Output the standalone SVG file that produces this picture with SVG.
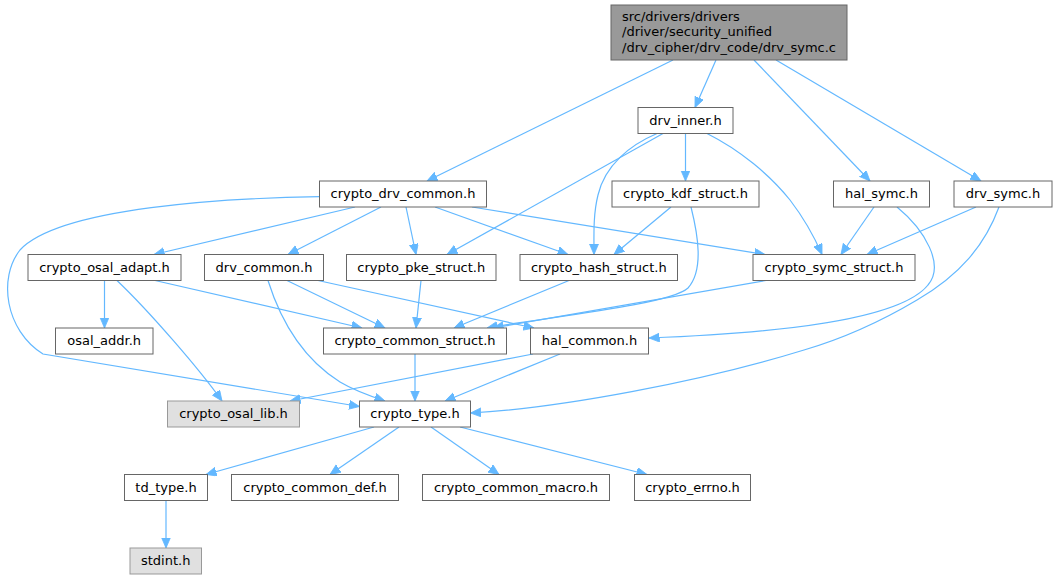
<svg xmlns="http://www.w3.org/2000/svg" width="1057" height="579" viewBox="0 0 1057 579">
<style>
.n rect{fill:#ffffff;stroke:#666666;stroke-width:1}
.g rect{fill:#e0e0e0;stroke:#999999;stroke-width:1}
.r rect{fill:#999999;stroke:#666666;stroke-width:1}
text{font-family:"DejaVu Sans","Liberation Sans",sans-serif;font-size:13px;fill:#000000}
.c{text-anchor:middle}
#edges path{fill:none;stroke:#63b8ff;stroke-width:1.2;marker-end:url(#arr)}
</style>
<defs>
<marker id="arr" markerUnits="userSpaceOnUse" markerWidth="12" markerHeight="10" refX="10.5" refY="4.5" orient="auto">
<path d="M0,0 L10.5,4.5 L0,9 Z" fill="#63b8ff" stroke="#63b8ff" stroke-width="0.8"/>
</marker>
</defs>
<rect x="0" y="0" width="1057" height="579" fill="#ffffff"/>
<g id="edges">
<path d="M673,60 L427,181"/>
<path d="M716,60 L695,107.5"/>
<path d="M754,60 L870,181"/>
<path d="M776,60 L981,181"/>
<path d="M685.5,133.5 L685.5,181"/>
<path d="M663,133.5 L447,254.5"/>
<path d="M657,133.5 C630,145 605,165 598,195 C593,215 594,235 594,254.5"/>
<path d="M707,133.5 C740,150 770,175 790,200 C803,217 814,236 822,254.5"/>
<path d="M319.5,196.7 C230,198 60,207 20,250 C-2,278 5,330 43,354 L359.5,406.5"/>
<path d="M355,207 L154,254.5"/>
<path d="M381,207 L288,254.5"/>
<path d="M406,207 L416,254.5"/>
<path d="M435,207 L568,254.5"/>
<path d="M472,207 L765,254.5"/>
<path d="M671,207 L614,254.5"/>
<path d="M691,207 C698,235 704,270 688,288 C670,305 540,318 487,328"/>
<path d="M874,207 L841,254.5"/>
<path d="M897,207 C925,230 945,265 928,285 C900,320 780,333 649,338"/>
<path d="M976,207 L867,254.5"/>
<path d="M999,207 C985,245 960,275 917,300 C880,322 845,338 804,350 C700,382 560,408 470.5,413"/>
<path d="M104.5,280.5 L104.5,328"/>
<path d="M117,280.5 C150,312 200,370 222,401"/>
<path d="M155,280.5 L362,328"/>
<path d="M268,280.5 C282,325 305,360 340,382 C355,391 370,396 385,401"/>
<path d="M287,280.5 L385,328"/>
<path d="M318,280.5 L534,328"/>
<path d="M421,280.5 L416,328"/>
<path d="M569,280.5 L454,328"/>
<path d="M766,280.5 L493,328"/>
<path d="M415,354 L415,401"/>
<path d="M560,354 L445,401"/>
<path d="M533,354 L290,401"/>
<path d="M374,427 L206,474.5"/>
<path d="M399,427 L330,474.5"/>
<path d="M431,427 L499,474.5"/>
<path d="M460,427 L647,474.5"/>
<path d="M166,500.5 L166,548"/>
</g>
<g id="root" class="r"><rect x="611" y="5" width="236" height="55"/>
<text x="622" y="20.5">src/drivers/drivers</text>
<text x="622" y="36.1">/driver/security_unified</text>
<text x="622" y="51.7">/drv_cipher/drv_code/drv_symc.c</text></g>
<g id="drv_inner" class="n"><rect x="638" y="107.5" width="95" height="26"/><text class="c" x="685.5" y="124.8">drv_inner.h</text></g>
<g id="crypto_drv_common" class="n"><rect x="319.5" y="181" width="167" height="26"/><text class="c" x="403" y="198.3">crypto_drv_common.h</text></g>
<g id="crypto_kdf_struct" class="n"><rect x="612" y="181" width="147" height="26"/><text class="c" x="685.5" y="198.3">crypto_kdf_struct.h</text></g>
<g id="hal_symc" class="n"><rect x="833.5" y="181" width="96" height="26"/><text class="c" x="881.5" y="198.3">hal_symc.h</text></g>
<g id="drv_symc" class="n"><rect x="954" y="181" width="98" height="26"/><text class="c" x="1003" y="198.3">drv_symc.h</text></g>
<g id="crypto_osal_adapt" class="n"><rect x="28" y="254.5" width="153" height="26"/><text class="c" x="104.5" y="271.8">crypto_osal_adapt.h</text></g>
<g id="drv_common" class="n"><rect x="204.5" y="254.5" width="119" height="26"/><text class="c" x="264" y="271.8">drv_common.h</text></g>
<g id="crypto_pke_struct" class="n"><rect x="346.5" y="254.5" width="149.5" height="26"/><text class="c" x="421.3" y="271.8">crypto_pke_struct.h</text></g>
<g id="crypto_hash_struct" class="n"><rect x="520" y="254.5" width="157.5" height="26"/><text class="c" x="598.8" y="271.8">crypto_hash_struct.h</text></g>
<g id="crypto_symc_struct" class="n"><rect x="753" y="254.5" width="162" height="26"/><text class="c" x="834" y="271.8">crypto_symc_struct.h</text></g>
<g id="osal_addr" class="n"><rect x="55.5" y="328" width="97.5" height="26"/><text class="c" x="104.2" y="345.3">osal_addr.h</text></g>
<g id="crypto_common_struct" class="n"><rect x="323.5" y="328" width="183" height="26"/><text class="c" x="415" y="345.3">crypto_common_struct.h</text></g>
<g id="hal_common" class="n"><rect x="530.5" y="328" width="118" height="26"/><text class="c" x="589.5" y="345.3">hal_common.h</text></g>
<g id="crypto_osal_lib" class="g"><rect x="167.5" y="401" width="132" height="26"/><text class="c" x="233.5" y="418.3">crypto_osal_lib.h</text></g>
<g id="crypto_type" class="n"><rect x="359.5" y="401" width="111" height="26"/><text class="c" x="415" y="418.3">crypto_type.h</text></g>
<g id="td_type" class="n"><rect x="124.5" y="474.5" width="83" height="26"/><text class="c" x="166" y="491.8">td_type.h</text></g>
<g id="crypto_common_def" class="n"><rect x="231.5" y="474.5" width="167" height="26"/><text class="c" x="315" y="491.8">crypto_common_def.h</text></g>
<g id="crypto_common_macro" class="n"><rect x="422.5" y="474.5" width="187" height="26"/><text class="c" x="516" y="491.8">crypto_common_macro.h</text></g>
<g id="crypto_errno" class="n"><rect x="634.5" y="474.5" width="116" height="26"/><text class="c" x="692.5" y="491.8">crypto_errno.h</text></g>
<g id="stdint" class="g"><rect x="130" y="548" width="71.5" height="26"/><text class="c" x="165.7" y="565.3">stdint.h</text></g>
</svg>
